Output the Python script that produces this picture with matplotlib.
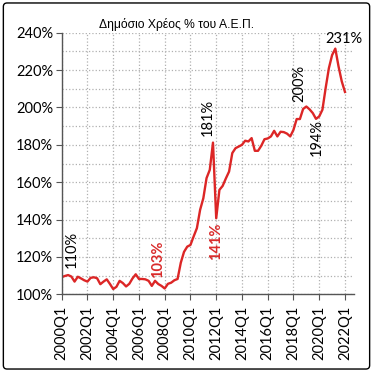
"""
Δημόσιο Χρέος % του Α.Ε.Π. — τριμηνιαία σειρά 2000Q1..2022Q1
"""
import matplotlib
matplotlib.use('Agg')
import matplotlib.pyplot as plt
from matplotlib.patches import FancyBboxPatch

# %% δεδομένα (διαβασμένα από το γράφημα)
years = list(range(2000, 2023, 2))
tick_labels = [f"{y}Q1" for y in years]

debt = [109.2, 109.8, 110.3, 109.5, 106.8, 109.4, 108.5, 107.5,
        106.8, 108.8, 109.1, 108.6, 105.4, 106.8, 108.0, 105.5,
        102.8, 104.0, 107.2, 106.0, 104.2, 105.6, 108.5, 110.7,
        108.2, 108.2, 108.0, 107.2, 104.5, 107.2, 105.5, 104.5,
        103.1, 105.6, 106.2, 107.5, 108.2, 116.9, 122.7, 125.5,
        126.4, 131.0, 135.4, 145.2, 151.4, 162.2, 166.6, 181.2,
        140.7, 155.9, 158.0, 162.0, 165.7, 175.6, 178.2, 179.1,
        180.0, 182.2, 181.8, 183.6, 176.8, 176.8, 179.5, 183.0,
        183.4, 184.5, 187.5, 184.5, 187.0, 186.8, 186.0, 184.5,
        188.0, 193.8, 193.8, 199.2, 200.5, 199.0, 197.0, 193.9,
        195.2, 198.8, 210.4, 221.0, 228.0, 231.5, 222.0, 214.0,
        208.3]

# σημειώσεις: (θέση τριμήνου, τιμή σε %, κείμενο, χρώμα, bold, περιστροφή)
notes = [
    (3.1, 124.0, "110%", "black", False, 90),
    (29.8, 118.8, "103%", "#d92b2b", True, 90),
    (47.8, 128.2, "141%", "#d92b2b", True, 90),
    (45.3, 194.5, "181%", "black", False, 90),
    (73.7, 213.0, "200%", "black", False, 90),
    (79.2, 183.9, "194%", "black", False, 90),
    (87.7, 236.6, "231%", "black", False, 0),
]

# %% σχέδιο
plt.rcParams['font.family'] = ['Lato', 'DejaVu Sans']
fig = plt.figure(figsize=(3.73, 3.72), dpi=100)
ax = fig.add_axes([0.1654, 0.2089, 0.7836, 0.7031])

x = list(range(len(debt)))
ax.plot(x, debt, color='#dc2626', lw=1.7, solid_joinstyle='round')

ax.set_xlim(0, 90.8)
ax.set_ylim(100, 240)
ax.set_yticks(range(100, 241, 20))
ax.set_yticklabels([f"{v}%" for v in range(100, 241, 20)], fontsize=10.5)
ax.set_yticks(range(110, 240, 20), minor=True)
ax.set_xticks([(y - 2000) * 4 for y in years])
ax.set_xticklabels(tick_labels, rotation=90, fontsize=10.5)

ax.grid(True, which='major', color='#b0b0b0', ls=':', lw=0.9)
ax.grid(True, which='minor', axis='y', color='#b0b0b0', ls=':', lw=0.9)
ax.tick_params(axis='y', which='minor', length=0)
ax.tick_params(axis='both', which='major', length=4, width=0.8, color='#555555', pad=2)
ax.tick_params(axis='x', which='major', pad=4)
for s in ['top', 'right']:
    ax.spines[s].set_visible(False)
for s in ['left', 'bottom']:
    ax.spines[s].set_color('#555555')
    ax.spines[s].set_linewidth(1.0)

for xq, yv, txt, col, bold, rot in notes:
    ax.text(xq, yv, txt, color=col, fontsize=10.5, rotation=rot,
            fontweight='bold' if bold else 'normal',
            ha='center', va='center', clip_on=False)

fig.text(0.474, 0.933, "Δημόσιο Χρέος % του Α.Ε.Π.", fontsize=8.7,
         family=['Liberation Sans', 'DejaVu Sans'], ha='center', va='center')

# πλαίσιο γύρω από όλο το γράφημα
frame = FancyBboxPatch((0.009, 0.008), 0.982, 0.984, transform=fig.transFigure,
                       boxstyle='round,pad=0,rounding_size=0.01',
                       fill=False, ec='black', lw=1.0)
fig.patches.append(frame)

fig.savefig('out.png', dpi=100)
